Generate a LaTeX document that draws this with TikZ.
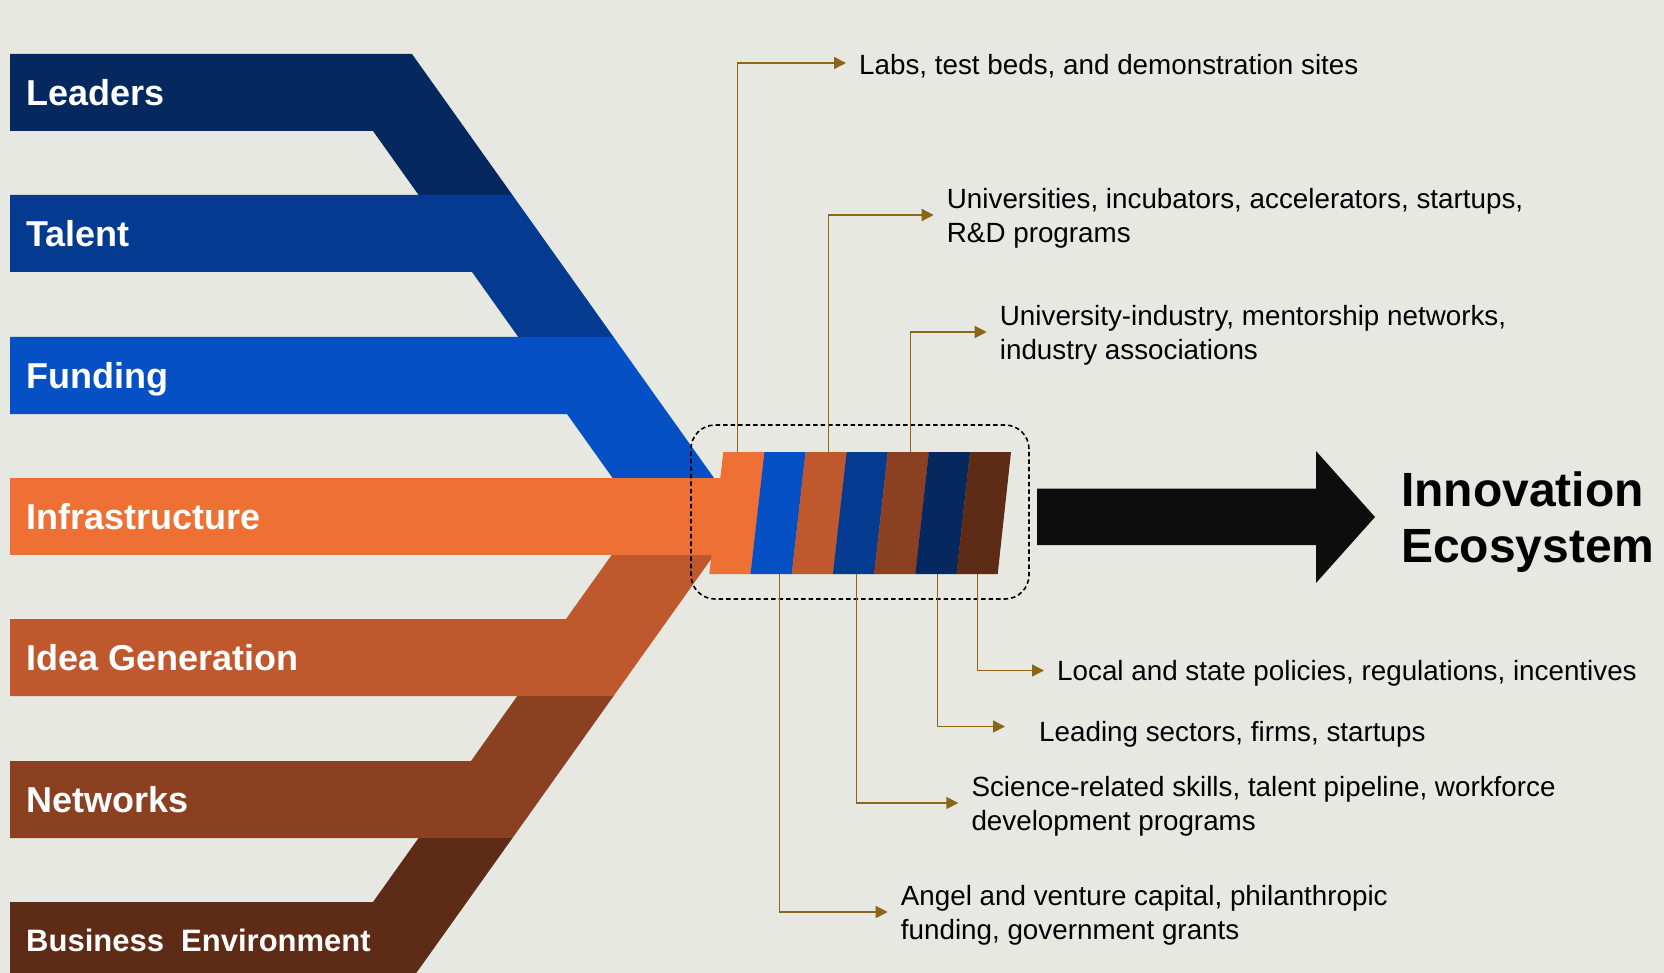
\documentclass[tikz,border=0pt]{standalone}
\usepackage{fontspec}
\setmainfont{Liberation Sans}
\usetikzlibrary{arrows.meta}

\definecolor{bggray}{RGB}{231,232,226}
\definecolor{leadnavy}{RGB}{5,40,95}
\definecolor{talentblue}{RGB}{4,58,143}
\definecolor{fundblue}{RGB}{5,80,196}
\definecolor{infraorange}{RGB}{239,112,52}
\definecolor{idearust}{RGB}{191,88,45}
\definecolor{netbrown}{RGB}{140,64,34}
\definecolor{bizbrown}{RGB}{94,43,22}
\definecolor{feedbrown}{RGB}{139,101,24}

\begin{document}
\begin{tikzpicture}[x=1pt,y=-1pt,
  band/.style={font=\fontsize{36}{40}\selectfont\bfseries,text=white,anchor=west,inner sep=0pt,text height=26pt,text depth=0pt},
  note/.style={font=\fontsize{27.8}{34}\selectfont,anchor=west,inner sep=0pt,align=left},
  feed/.style={draw=feedbrown,line width=1.5pt,-{Triangle[length=12pt,width=12pt]},shorten >=13pt}]

\fill[bggray] (0,0) rectangle (1664,973);
\useasboundingbox (0,0) rectangle (1664,973);

% bands running into the funnel
\fill[leadnavy] (10,54) -- (412,54) -- (512.4,195) -- (418.6,195) -- (373,131) -- (10,131) -- cycle;
\fill[talentblue] (10,195) -- (512.4,195) -- (613.5,337) -- (518.3,337) -- (472,272) -- (10,272) -- cycle;
\fill[fundblue] (10,337) -- (613.5,337) -- (714,478) -- (612.6,478) -- (567,414) -- (10,414) -- cycle;
\fill[infraorange] (10,478) rectangle (721,555);
\fill[idearust] (10,696) -- (613.6,696) -- (714,555) -- (611.6,555) -- (566,619) -- (10,619) -- cycle;
\fill[netbrown] (10,838) -- (512.5,838) -- (613.6,696) -- (517.3,696) -- (471,761) -- (10,761) -- cycle;
\fill[bizbrown] (10,979) -- (412,979) -- (512.5,838) -- (418.6,838) -- (373,902) -- (10,902) -- cycle;

% striped block
\fill[infraorange] (723.3,452) -- (764.6,452) -- (750.7,574) -- (709.3,574) -- cycle;
\fill[fundblue] (764.4,452) -- (805.7,452) -- (791.9,574) -- (750.5,574) -- cycle;
\fill[idearust] (805.5,452) -- (846.8,452) -- (833.1,574) -- (791.7,574) -- cycle;
\fill[talentblue] (846.6,452) -- (887.9,452) -- (874.3,574) -- (832.9,574) -- cycle;
\fill[netbrown] (887.7,452) -- (929,452) -- (915.5,574) -- (874.1,574) -- cycle;
\fill[leadnavy] (928.8,452) -- (970.1,452) -- (956.7,574) -- (915.3,574) -- cycle;
\fill[bizbrown] (969.9,452) -- (1011,452) -- (997.7,574) -- (956.5,574) -- cycle;

\node[draw=black,line width=1.6pt,dash pattern=on 4.5pt off 3pt,rounded corners=24pt,
  minimum width=338pt,minimum height=174pt,inner sep=0pt] (hub) at (860,512) {};

\coordinate (up1) at (737.7,452);
\coordinate (up2) at (828.3,452);
\coordinate (up3) at (910.7,452);
\coordinate (dn1) at (779.3,574);
\coordinate (dn2) at (856.7,574);
\coordinate (dn3) at (937.5,574);
\coordinate (dn4) at (977.7,574);

% labels on the bands
\node[band] (lLeaders) at (26,92.5) {Leaders};
\node[band] (lTalent) at (26,233.5) {Talent};
\node[band] (lFunding) at (26,375.5) {Funding};
\node[band] (lInfra) at (26,516.5) {Infrastructure};
\node[band] (lIdea) at (26,657.5) {Idea Generation};
\node[band] (lNet) at (26,799.5) {Networks};
\node[band,font=\fontsize{31}{36}\selectfont\bfseries,text height=22pt] (lBiz) at (26,940.5) {Business~~Environment};

% notes
\node[note] (tLabs) at (859,66) {Labs, test beds, and demonstration sites};
\node[note] (tUniv) at (946.7,218) {Universities, incubators, accelerators, startups,\\R\&D programs};
\node[note] (tAssoc) at (999.7,335) {University-industry, mentorship networks,\\industry associations};
\node[note] (tPolicy) at (1057,673.5) {Local and state policies, regulations, incentives};
\node[note] (tSectors) at (1039,734.5) {Leading sectors, firms, startups};
\node[note] (tSkills) at (971.3,806) {Science-related skills, talent pipeline, workforce\\development programs};
\node[note] (tCapital) at (900.7,915) {Angel and venture capital, philanthropic\\funding, government grants};

\draw[feed] (up1) |- ([yshift=3pt]tLabs.west);
\draw[feed] (up2) |- ([yshift=3pt]tUniv.west);
\draw[feed] (up3) |- ([yshift=3pt]tAssoc.west);
\draw[feed] (dn4) |- ([yshift=3pt]tPolicy.west);
\draw[feed,shorten >=34pt] (dn3) |- ([yshift=8pt]tSectors.west);
\draw[feed] (dn2) |- ([yshift=3pt]tSkills.west);
\draw[feed] (dn1) |- ([yshift=3pt]tCapital.west);

% outcome
\fill[black!95] (1037,488.5) -- (1316,488.5) -- (1316,451) -- (1375,517) -- (1316,583) -- (1316,545) -- (1037,545) -- cycle;
\node[font=\fontsize{48}{56}\selectfont\bfseries,anchor=west,inner sep=0pt,align=left] (eco) at (1401,521.7) {Innovation\\Ecosystem};

\end{tikzpicture}
\end{document}
